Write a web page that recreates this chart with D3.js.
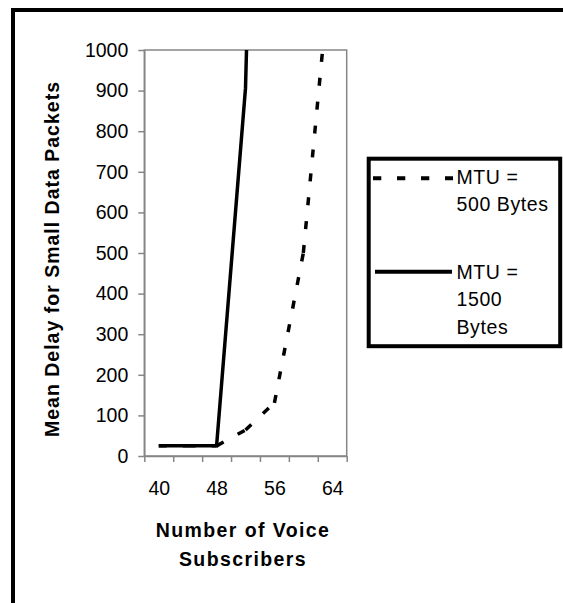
<!DOCTYPE html>
<html>
<head>
<meta charset="utf-8">
<script src="https://cdn.jsdelivr.net/npm/d3@7"></script>
<style>
  body { margin: 0; background: #fff; }
  svg { display: block; font-family: "Liberation Sans", Arial, sans-serif; }
</style>
</head>
<body>
<script>
// values
var subscribers = [40, 44, 48, 52, 56, 60, 64];
var delayMtu500 = [25, 25, 25, 64, 131, 500, 1250];
var delayMtu1500 = [25, 25, 25, 906, 3600, null, null];
var yTicks = [0, 100, 200, 300, 400, 500, 600, 700, 800, 900, 1000];
var xTickMarks = [38, 42, 46, 50, 54, 58, 62, 66];
var xTickLabels = [40, 48, 56, 64];
var legendText500 = ["MTU =", "500 Bytes"];
var legendText1500 = ["MTU =", "1500", "Bytes"];

var svgWidth = 563;
var svgHeight = 603;

var chartMargin = { top: 50, left: 144.3 };
var chartWidth = 202.4;
var chartHeight = 406;

var svg = d3.select("body")
  .append("svg")
  .attr("width", svgWidth)
  .attr("height", svgHeight);

// outer frame (only top and left edges show)
svg.append("path")
  .attr("d", "M13,603 L13,10 L563,10")
  .attr("fill", "none")
  .attr("stroke", "black")
  .attr("stroke-width", 4);

var chartGroup = svg.append("g")
  .attr("transform", `translate(${chartMargin.left}, ${chartMargin.top})`);

var xScale = d3.scaleLinear()
  .domain([38, 66])
  .range([0, chartWidth]);

var yScale = d3.scaleLinear()
  .domain([0, 1000])
  .range([chartHeight, 0]);

// plot area border
chartGroup.append("rect")
  .attr("x", 0)
  .attr("y", 0)
  .attr("width", chartWidth)
  .attr("height", chartHeight)
  .attr("fill", "none")
  .attr("stroke", "#868686")
  .attr("stroke-width", 1.5);

chartGroup.append("clipPath")
  .attr("id", "plotClip")
  .append("rect")
  .attr("width", chartWidth)
  .attr("height", chartHeight);

var leftAxis = d3.axisLeft(yScale)
  .tickValues(yTicks)
  .tickFormat(d3.format("d"))
  .tickSize(6)
  .tickPadding(10)
  .tickSizeOuter(0);

var yAxisG = chartGroup.append("g").call(leftAxis);

var bottomTicks = d3.axisBottom(xScale)
  .tickValues(xTickMarks)
  .tickFormat("")
  .tickSize(6)
  .tickSizeOuter(0);

var xAxisG = chartGroup.append("g")
  .attr("transform", `translate(0, ${chartHeight})`)
  .call(bottomTicks);

var bottomLabels = d3.axisBottom(xScale)
  .tickValues(xTickLabels)
  .tickFormat(d3.format("d"))
  .tickSize(0)
  .tickPadding(25);

var xLabelG = chartGroup.append("g")
  .attr("transform", `translate(0, ${chartHeight})`)
  .call(bottomLabels);
xLabelG.select(".domain").remove();

[yAxisG, xAxisG].forEach(function(g) {
  g.select(".domain").attr("stroke", "#868686").attr("stroke-width", 1.5);
  g.selectAll(".tick line").attr("stroke", "#868686").attr("stroke-width", 1.5);
});

[yAxisG, xLabelG].forEach(function(g) {
  g.selectAll(".tick text")
    .attr("fill", "black")
    .attr("font-size", "19.5px")
    .attr("font-family", "Liberation Sans, Arial, sans-serif");
});

// series
var pts500 = subscribers.map((s, i) => ({ x: s, y: delayMtu500[i] }));
var pts1500 = subscribers.map((s, i) => ({ x: s, y: delayMtu1500[i] }));

var line = d3.line()
  .defined(d => d.y != null)
  .x(d => xScale(d.x))
  .y(d => yScale(d.y));

var lines = chartGroup.append("g").attr("clip-path", "url(#plotClip)");

// dash pattern restarts at every point, so draw each segment on its own
lines.selectAll(".seg500")
  .data(d3.pairs(pts500))
  .enter()
  .append("path")
  .attr("class", "seg500")
  .attr("d", d => line(d))
  .attr("fill", "none")
  .attr("stroke", "black")
  .attr("stroke-width", 3.5)
  .attr("stroke-dasharray", "8,16");

lines.append("path")
  .datum(pts1500)
  .attr("d", line)
  .attr("fill", "none")
  .attr("stroke", "black")
  .attr("stroke-width", 3.5)
  .attr("stroke-linejoin", "miter");

// axis titles
svg.append("text")
  .attr("transform", "translate(59, 259) rotate(-90)")
  .attr("text-anchor", "middle")
  .attr("font-weight", "bold")
  .attr("font-size", "19.5px")
  .attr("letter-spacing", "1px")
  .text("Mean Delay for Small Data Packets");

var xTitle = svg.append("text")
  .attr("text-anchor", "middle")
  .attr("font-weight", "bold")
  .attr("font-size", "19.5px")
  .attr("letter-spacing", "1.4px");
xTitle.append("tspan").attr("x", 243).attr("y", 537).text("Number of Voice");
xTitle.append("tspan").attr("x", 243).attr("y", 566).text("Subscribers");

// legend
var legend = svg.append("g");
legend.append("rect")
  .attr("x", 368.7)
  .attr("y", 158.7)
  .attr("width", 191.5)
  .attr("height", 187.5)
  .attr("fill", "white")
  .attr("stroke", "black")
  .attr("stroke-width", 4);

legend.append("line")
  .attr("x1", 373).attr("x2", 453)
  .attr("y1", 178.3).attr("y2", 178.3)
  .attr("stroke", "black")
  .attr("stroke-width", 4)
  .attr("stroke-dasharray", "8.3,15.7");

legend.append("line")
  .attr("x1", 375).attr("x2", 452)
  .attr("y1", 271.7).attr("y2", 271.7)
  .attr("stroke", "black")
  .attr("stroke-width", 4);

function legendLabel(lines, y0) {
  var t = legend.append("text")
    .attr("font-size", "19.5px")
    .attr("letter-spacing", "0.6px");
  lines.forEach(function(s, i) {
    t.append("tspan").attr("x", 456.5).attr("y", y0 + i * 27.5).text(s);
  });
}
legendLabel(legendText500, 183.5);
legendLabel(legendText1500, 278.5);
</script>
</body>
</html>
